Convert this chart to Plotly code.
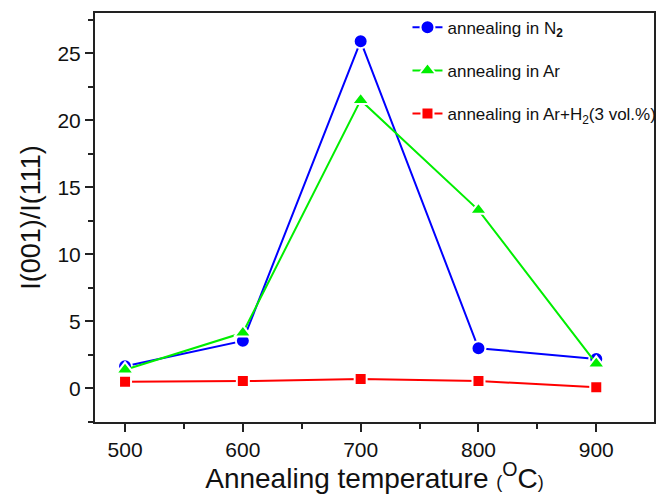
import plotly.graph_objects as go

temperatures = [500, 600, 700, 800, 900]
ratio_n2 = [1.65, 3.55, 25.9, 3.0, 2.2]
ratio_ar = [1.4, 4.15, 21.5, 13.3, 1.85]
ratio_ar_h2 = [0.5, 0.55, 0.7, 0.55, 0.1]

series = [
    ("annealing in N<sub><b>2</b></sub>", ratio_n2, "#0000FF", "circle", 14),
    ("annealing in Ar", ratio_ar, "#00EE00", "triangle-up", 15),
    ("annealing in Ar+H<sub>2</sub>(3 vol.%)", ratio_ar_h2, "#FF0000", "square", 12),
]

fig = go.Figure()
for i, (name, vals, color, sym, size) in enumerate(series):
    fig.add_trace(go.Scatter(
        x=temperatures, y=vals, name=name, mode="lines+markers",
        legendgroup=f"g{i}",
        line=dict(color=color, width=2),
        marker=dict(color=color, symbol=sym, size=size,
                    line=dict(color="white", width=2)),
    ))

axis_common = dict(
    showline=True, linecolor="#222222", linewidth=2, mirror=True,
    ticks="outside", ticklen=8, tickwidth=1.5, tickcolor="#222222",
    showgrid=False, zeroline=False,
    tickfont=dict(family="Liberation Sans", size=21, color="#111111"),
)

fig.update_xaxes(
    range=[474.5, 949], tick0=500, dtick=100,
    minor=dict(ticks="outside", ticklen=5, dtick=50, tickcolor="#222222", tickwidth=1.5),
    title=dict(text="Annealing temperature <span style='font-size:18px'>(</span><sup>O</sup>C<span style='font-size:18px'>)</span>",
               font=dict(family="Liberation Sans", size=28, color="#111111"),
               standoff=17),
    automargin=False,
    **axis_common,
)
fig.update_yaxes(
    range=[-2.5, 28], tick0=0, dtick=5,
    minor=dict(ticks="outside", ticklen=5, dtick=2.5, tickcolor="#222222", tickwidth=1.5),
    title=dict(text="I(001)/I(111)",
               font=dict(family="Liberation Sans", size=27, color="#111111"),
               standoff=9),
    automargin=False,
    **axis_common,
)

fig.update_layout(
    width=665, height=494,
    margin=dict(l=95, r=11, t=13, b=72, autoexpand=False),
    plot_bgcolor="white", paper_bgcolor="white",
    legend=dict(
        x=0.559, y=1.008, xanchor="left", yanchor="top",
        bgcolor="rgba(0,0,0,0)", borderwidth=0,
        font=dict(family="Liberation Sans", size=17, color="#111111"),
        tracegroupgap=18,
    ),
)

fig.write_html("out.html", config={"displayModeBar": False},
               post_script="document.body.style.margin='0px';document.body.style.padding='0px';")
